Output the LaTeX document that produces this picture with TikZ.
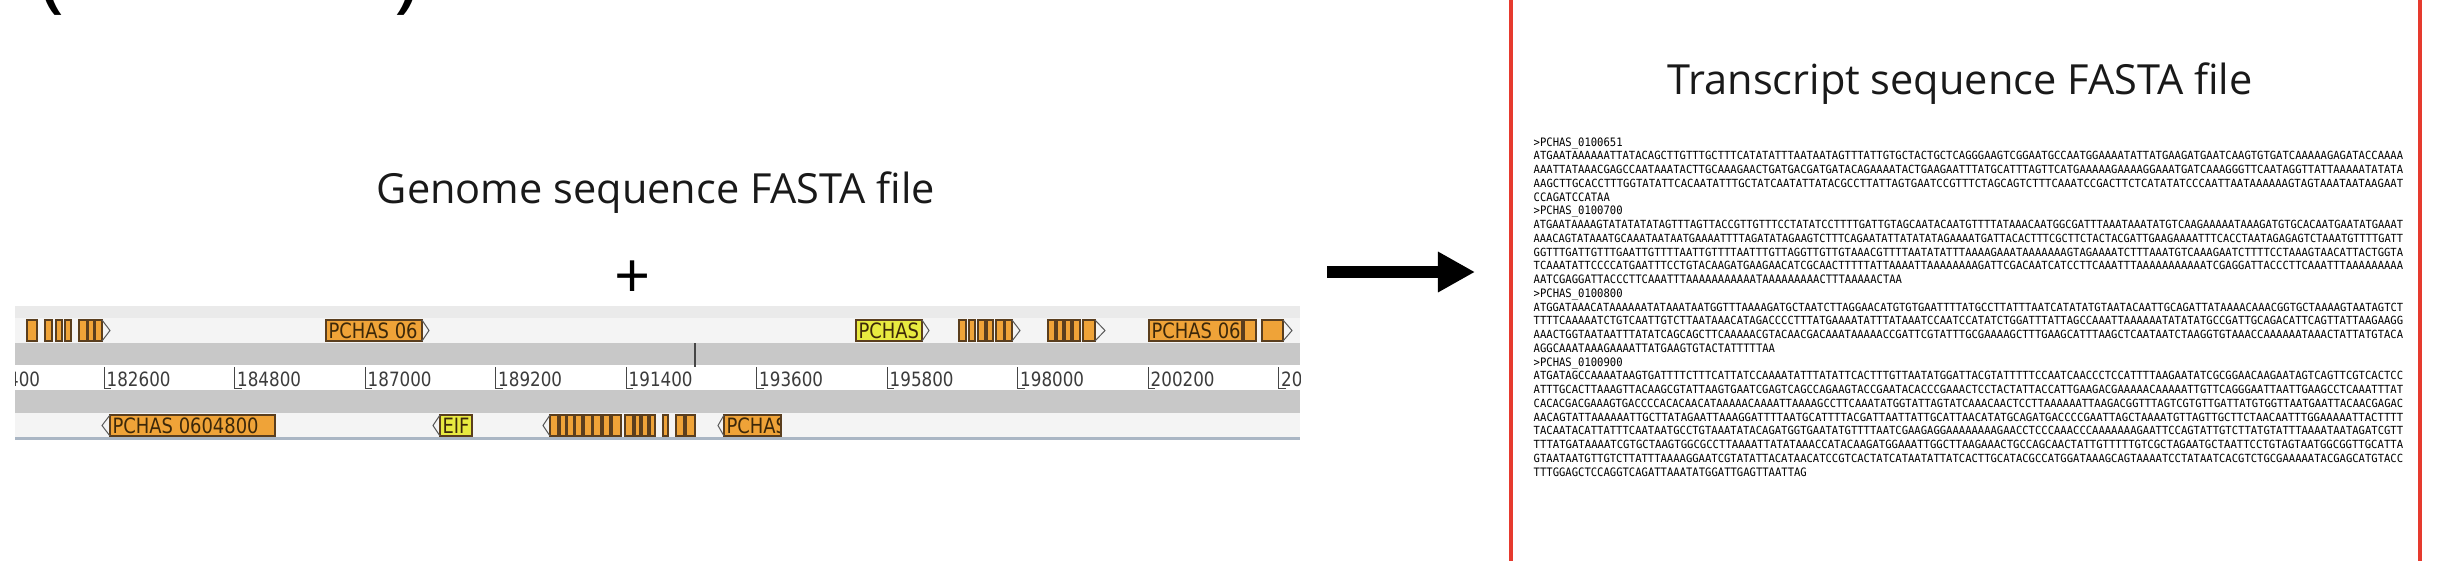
\documentclass[tikz,border=0pt]{standalone}
\usepackage{fontspec}
\setmainfont{Open Sans}
\newfontfamily\genefont[FakeStretch=0.85]{DejaVu Sans}
\newfontfamily\seqfont{DejaVu Sans Mono}
\usepackage{graphicx}
\usepackage{xcolor}
\usetikzlibrary{arrows.meta,positioning,calc}

\definecolor{geneorange}{RGB}{239,163,56}
\definecolor{geneyellow}{RGB}{232,234,64}
\definecolor{geneedge}{RGB}{90,62,30}
\definecolor{chevgray}{RGB}{90,90,90}
\definecolor{labeltext}{RGB}{60,40,10}
\definecolor{rulertext}{RGB}{60,60,60}
\definecolor{tickgray}{RGB}{70,70,70}
\definecolor{bandlight}{RGB}{234,234,234}
\definecolor{rowlight}{RGB}{244,244,244}
\definecolor{bandgray}{RGB}{200,200,200}
\definecolor{trackline}{RGB}{170,182,196}
\definecolor{framered}{RGB}{230,58,46}

% one FASTA line: full lines are fitted to the block width
\newsavebox\seqbox
\newcommand{\seqfit}[1]{%
  \sbox\seqbox{\seqfont\fontsize{3}{3.6}\selectfont #1}%
  \ifdim\wd\seqbox>150pt\relax
    \resizebox{8.69cm}{0.083cm}{\usebox\seqbox}%
  \else
    \scalebox{1}[1.1]{\usebox\seqbox}%
  \fi}

\begin{document}
\begin{tikzpicture}[x=0.01cm, y=-0.01cm,
    gene/.style={draw=geneedge, line width=0.12mm, fill=geneorange},
    yelgene/.style={gene, fill=geneyellow},
    chev/.style={draw=chevgray, line width=0.1mm},
    glabel/.style={font=\genefont\fontsize{6}{7}\selectfont, text=labeltext,
                   inner sep=0, anchor=west},
    rlabel/.style={font=\genefont\fontsize{5.6}{7}\selectfont, text=rulertext,
                   inner sep=0, anchor=base west},
    rulertick/.style={draw=tickgray, line width=0.1mm},
    headtext/.style={font=\fontsize{11.8}{14}\selectfont, text=black!90,
                     inner sep=0, anchor=base},
    seqline/.style={inner sep=0, anchor=base west},
    bigarrow/.style={line width=1.2mm, -{Triangle[length=3.7mm, width=3.8mm]}},
    redbox/.style={draw=framered, line width=0.4mm, minimum width=9.09cm,
                   minimum height=6.2cm}
]
\useasboundingbox (0,0) rectangle (2454,560);

% --- brackets cut by the top edge ---
\node[font=\fontsize{25}{30}\selectfont, inner sep=0, anchor=base] (lparen) at (52,1) {(};
\node[font=\fontsize{25}{30}\selectfont, inner sep=0, anchor=base] (rparen) at (408,1) {)};

% --- genome side ---
\node[headtext] (gtitle) at (656,203) {Genome sequence FASTA file};
\node[font=\fontsize{18}{20}\selectfont, inner sep=0] (plus) at (633,280) {+};

\begin{scope}
\clip (15,306) rectangle (1300,440);
\fill[bandlight] (15,306) rectangle (1300,318);
\fill[rowlight] (15,318) rectangle (1300,343);
\fill[bandgray] (15,343) rectangle (1300,365);
\fill[white] (15,365) rectangle (1300,390);
\fill[bandgray] (15,390) rectangle (1300,413);
\fill[rowlight] (15,413) rectangle (1300,437);
\fill[trackline] (15,437) rectangle (1300,440);

% ruler
\foreach \pos [count=\k from 0] in {180400,182600,184800,187000,189200,191400,
                                    193600,195800,198000,200200,202400}{
  \draw[rulertick] ({-26.5+130.5*\k},367) |- ++(7,21);
  \node[rlabel] (pos\k) at ({-24.5+130.5*\k},386) {\pos};
}
\draw[tickgray, line width=0.15mm] (695,343) -- (695,367);

% forward strand
\foreach \a/\b in {27/37,45/52,56/62,65/71,79/87,88/94,95/102}
  \draw[gene] (\a,320) rectangle (\b,341);
\draw[chev] (102,320) -- (110,330.5) -- (102,341);

\path[gene, path picture={\node[glabel] (fw1) at ([xshift=0.02cm]path picture bounding box.west) {PCHAS 06};}]
  (326,320) rectangle (422,341);
\draw[chev] (422,320) -- (429,330.5) -- (422,341);

\path[yelgene, path picture={\node[glabel] (fw2) at ([xshift=0.02cm]path picture bounding box.west) {PCHAS};}]
  (856,320) rectangle (922,341);
\draw[chev] (922,320) -- (929,330.5) -- (922,341);

\foreach \a/\b in {959/966,969/975,978/985,987/993,996/1004,1005/1012}
  \draw[gene] (\a,320) rectangle (\b,341);
\draw[chev] (1012,320) -- (1020,330.5) -- (1012,341);

\foreach \a/\b in {1048/1055,1057/1063,1065/1071,1073/1080,1083/1095}
  \draw[gene] (\a,320) rectangle (\b,341);
\draw[chev] (1095,320) -- (1105,330.5) -- (1095,341);

\path[gene, path picture={\node[glabel] (fw3) at ([xshift=0.02cm]path picture bounding box.west) {PCHAS 0605};}]
  (1149,320) rectangle (1242,341);
\draw[gene] (1244,320) rectangle (1256,341);
\draw[gene] (1262,320) rectangle (1283,341);
\draw[chev] (1283,320) -- (1292,330.5) -- (1283,341);

% reverse strand
\path[gene, path picture={\node[glabel] (rv1) at ([xshift=0.02cm]path picture bounding box.west) {PCHAS 0604800};}]
  (110,415) rectangle (275,436);
\draw[chev] (110,415) -- (102,425.5) -- (110,436);

\path[yelgene, path picture={\node[glabel] (rv2) at ([xshift=0.02cm]path picture bounding box.west) {EIF};}]
  (440,415) rectangle (472,436);
\draw[chev] (440,415) -- (433,425.5) -- (440,436);

\foreach \a/\b in {550/558,560/566,567/574,575/582,584/592,593/601,603/610,612/621,
                   625/633,635/640,642/648,650/655,663/668,676/684,686/695}
  \draw[gene] (\a,415) rectangle (\b,436);
\draw[chev] (550,415) -- (543,425.5) -- (550,436);

\path[gene, path picture={\node[glabel] (rv3) at ([xshift=0.02cm]path picture bounding box.west) {PCHAS};}]
  (724,415) rectangle (781,436);
\draw[chev] (724,415) -- (718,425.5) -- (724,436);
\end{scope}

% --- arrow ---
\coordinate (arrfrom) at (1327,272);
\coordinate (arrto) at (1475,272);
\draw[bigarrow] (arrfrom) -- (arrto);

% --- transcript side ---
\node[redbox] (txbox) at (1965.5,280) {};
\node[headtext] (ttitle) at (1960,94) {Transcript sequence FASTA file};

\foreach \txt [count=\i] in {
  >PCHAS\_0100651,
  ATGAATAAAAAATTATACAGCTTGTTTGCTTTCATATATTTAATAATAGTTTATTGTGCTACTGCTCAGGGAAGTCGGAATGCCAATGGAAAATATTATGAAGATGAATCAAGTGTGATCAAAAAGAGATACCAAAA,
  AAATTATAAACGAGCCAATAAATACTTGCAAAGAACTGATGACGATGATACAGAAAATACTGAAGAATTTATGCATTTAGTTCATGAAAAAGAAAAGGAAATGATCAAAGGGTTCAATAGGTTATTAAAAATATATA,
  AAGCTTGCACCTTTGGTATATTCACAATATTTGCTATCAATATTATACGCCTTATTAGTGAATCCGTTTCTAGCAGTCTTTCAAATCCGACTTCTCATATATCCCAATTAATAAAAAAGTAGTAAATAATAAGAAT,
  CCAGATCCATAA,
  >PCHAS\_0100700,
  ATGAATAAAAGTATATATATAGTTTAGTTACCGTTGTTTCCTATATCCTTTTGATTGTAGCAATACAATGTTTTATAAACAATGGCGATTTAAATAAATATGTCAAGAAAAATAAAGATGTGCACAATGAATATGAAAT,
  AAACAGTATAAATGCAAATAATAATGAAAATTTTAGATATAGAAGTCTTTCAGAATATTATATATAGAAAATGATTACACTTTCGCTTCTACTACGATTGAAGAAAATTTCACCTAATAGAGAGTCTAAATGTTTTGATT,
  GGTTTGATTGTTTGAATTGTTTTAATTGTTTTAATTTGTTAGGTTGTTGTAAACGTTTTAATATATTTAAAAGAAATAAAAAAAGTAGAAAATCTTTAAATGTCAAAGAATCTTTTCCTAAAGTAACATTACTGGTA,
  TCAAATATTCCCCATGAATTTCCTGTACAAGATGAAGAACATCGCAACTTTTTATTAAAATTAAAAAAAAGATTCGACAATCATCCTTCAAATTTAAAAAAAAAAATCGAGGATTACCCTTCAAATTTAAAAAAAAA,
  AATCGAGGATTACCCTTCAAATTTAAAAAAAAAAATAAAAAAAAACTTTAAAAACTAA,
  >PCHAS\_0100800,
  ATGGATAAACATAAAAAATATAAATAATGGTTTAAAAGATGCTAATCTTAGGAACATGTGTGAATTTTATGCCTTATTTAATCATATATGTAATACAATTGCAGATTATAAAACAAACGGTGCTAAAAGTAATAGTCT,
  TTTTCAAAAATCTGTCAATTGTCTTAATAAACATAGACCCCTTTATGAAAATATTTATAAATCCAATCCATATCTGGATTTATTAGCCAAATTAAAAAATATATATGCCGATTGCAGACATTCAGTTATTAAGAAGG,
  AAACTGGTAATAATTTATATCAGCAGCTTCAAAAACGTACAACGACAAATAAAAACCGATTCGTATTTGCGAAAAGCTTTGAAGCATTTAAGCTCAATAATCTAAGGTGTAAACCAAAAAATAAACTATTATGTACA,
  AGGCAAATAAAGAAAATTATGAAGTGTACTATTTTTAA,
  >PCHAS\_0100900,
  ATGATAGCCAAAATAAGTGATTTTCTTTCATTATCCAAAATATTTATATTCACTTTGTTAATATGGATTACGTATTTTTCCAATCAACCCTCCATTTTAAGAATATCGCGGAACAAGAATAGTCAGTTCGTCACTCC,
  ATTTGCACTTAAAGTTACAAGCGTATTAAGTGAATCGAGTCAGCCAGAAGTACCGAATACACCCGAAACTCCTACTATTACCATTGAAGACGAAAAACAAAAATTGTTCAGGGAATTAATTGAAGCCTCAAATTTAT,
  CACACGACGAAAGTGACCCCACACAACATAAAAACAAAATTAAAAGCCTTCAAATATGGTATTAGTATCAAACAACTCCTTAAAAAATTAAGACGGTTTAGTCGTGTTGATTATGTGGTTAATGAATTACAACGAGAC,
  AACAGTATTAAAAAATTGCTTATAGAATTAAAGGATTTTAATGCATTTTACGATTAATTATTGCATTAACATATGCAGATGACCCCGAATTAGCTAAAATGTTAGTTGCTTCTAACAATTTGGAAAAATTACTTTT,
  TACAATACATTATTTCAATAATGCCTGTAAATATACAGATGGTGAATATGTTTTAATCGAAGAGGAAAAAAAAGAACCTCCCAAACCCAAAAAAAGAATTCCAGTATTGTCTTATGTATTTAAAATAATAGATCGTT,
  TTTATGATAAAATCGTGCTAAGTGGCGCCTTAAAATTATATAAACCATACAAGATGGAAATTGGCTTAAGAAACTGCCAGCAACTATTGTTTTTGTCGCTAGAATGCTAATTCCTGTAGTAATGGCGGTTGCATTA,
  GTAATAATGTTGTCTTATTTAAAAGGAATCGTATATTACATAACATCCGTCACTATCATAATATTATCACTTGCATACGCCATGGATAAAGCAGTAAAATCCTATAATCACGTCTGCGAAAAATACGAGCATGTACC,
  TTTGGAGCTCCAGGTCAGATTAAATATGGATTGAGTTAATTAG}
  \node[seqline] (ln\i) at (1533,{146+13.75*(\i-1)}) {\seqfit{\txt}};

\end{tikzpicture}
\end{document}
